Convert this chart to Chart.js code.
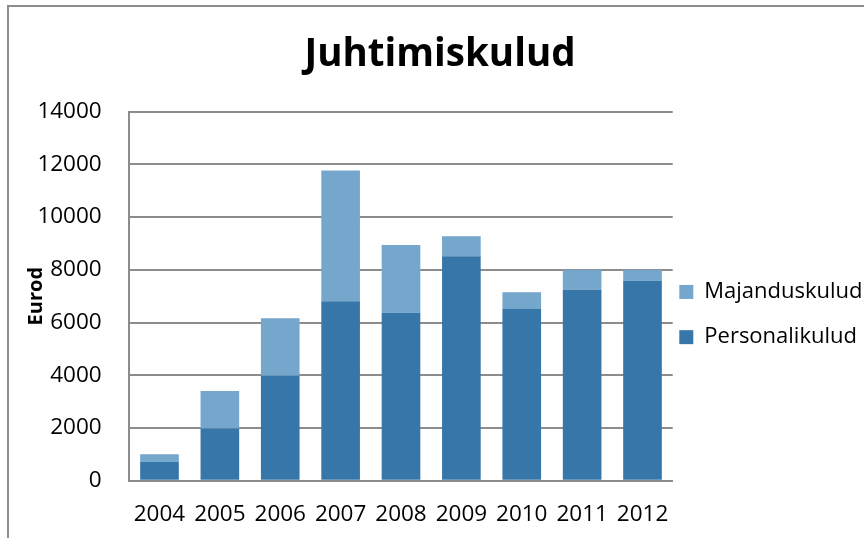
<!DOCTYPE html>
<html>
<head>
<meta charset="utf-8">
<title>Juhtimiskulud</title>
<script src="https://cdn.jsdelivr.net/npm/chart.js@4.4.1/dist/chart.umd.min.js"></script>
<style>
  html, body { margin: 0; padding: 0; background: #fff; overflow: hidden; }
  #wrap { position: relative; width: 864px; height: 538px; overflow: hidden; }
  #raam {
    position: absolute; left: 7px; top: 5px; width: 900px; height: 600px;
    border-left: 2px solid #8c8c8c; border-top: 2px solid #8c8c8c;
    pointer-events: none;
  }
</style>
</head>
<body>
<div id="wrap">
  <canvas id="chartJuhtimiskulud" width="864" height="538"></canvas>
  <div id="raam"></div>
</div>
<script>
// andmed (loetud pildilt)
const aastad = ["2004", "2005", "2006", "2007", "2008", "2009", "2010", "2011", "2012"];
const personalikulud = [720, 1980, 3980, 6810, 6370, 8510, 6510, 7240, 7580];
const majanduskulud = [280, 1420, 2180, 4960, 2570, 760, 640, 760, 420];
const yMin = 0;
const yMax = 14000;
const ySamm = 2000;

const tumeSinine = "#3776a8";
const heleSinine = "#75a6cc";
const hall = "#8c8c8c";

Chart.defaults.font.family = "'Open Sans', sans-serif";
Chart.defaults.color = "#000";

// legend nihutatakse veidi vasakule ja alla, nagu originaalis
// (parem serv jääb paigale, muidu lõikab legend teksti liiga vara ära)
const legendiNihe = {
  id: "legendiNihe",
  afterLayout(chart) {
    const lg = chart.legend;
    if (!lg) return;
    lg.left -= 16.6;
    lg.top += 18.4;
    lg.bottom += 18.4;
  }
};

new Chart(document.getElementById("chartJuhtimiskulud"), {
  type: "bar",
  data: {
    labels: aastad,
    datasets: [
      {
        label: "Personalikulud",
        data: personalikulud,
        backgroundColor: tumeSinine,
        categoryPercentage: 1,
        barPercentage: 0.64
      },
      {
        label: "Majanduskulud",
        data: majanduskulud,
        backgroundColor: heleSinine,
        categoryPercentage: 1,
        barPercentage: 0.64
      }
    ]
  },
  options: {
    responsive: false,
    animation: false,
    layout: { padding: { left: 16, right: 0, top: 0, bottom: 0 } },
    plugins: {
      title: {
        display: true,
        text: "Juhtimiskulud",
        font: { size: 38.5, weight: "bold" },
        color: "#000",
        padding: { top: 32, bottom: 33.4 }
      },
      legend: {
        position: "right",
        reverse: true,
        fullSize: false,
        maxWidth: 191.3,
        labels: {
          font: { size: 22 },
          color: "#000",
          boxWidth: 14,
          boxHeight: 14,
          padding: 23.2
        }
      },
      tooltip: { enabled: false }
    },
    scales: {
      x: {
        stacked: true,
        grid: { display: false, drawTicks: false },
        border: { display: true, color: hall, width: 2 },
        ticks: { font: { size: 22.5 }, color: "#000", padding: 20, maxRotation: 0, autoSkip: false },
        afterFit(scale) { scale.height = 57.3; }
      },
      y: {
        stacked: true,
        min: yMin,
        max: yMax,
        grid: { color: hall, lineWidth: 2, drawTicks: false },
        border: { display: true, color: hall, width: 2 },
        ticks: {
          stepSize: ySamm,
          font: { size: 22.5 },
          color: "#000",
          padding: 27.6,
          callback: (v) => String(v)   // ilma tuhandete eraldajata
        },
        title: {
          display: true,
          text: "Eurod",
          font: { size: 20, weight: "bold" },
          color: "#000",
          padding: { top: 7.9, bottom: 0 }
        },
        afterFit(scale) { scale.width = 129.3 - 16; }
      }
    }
  },
  plugins: [legendiNihe]
});
</script>
</body>
</html>
